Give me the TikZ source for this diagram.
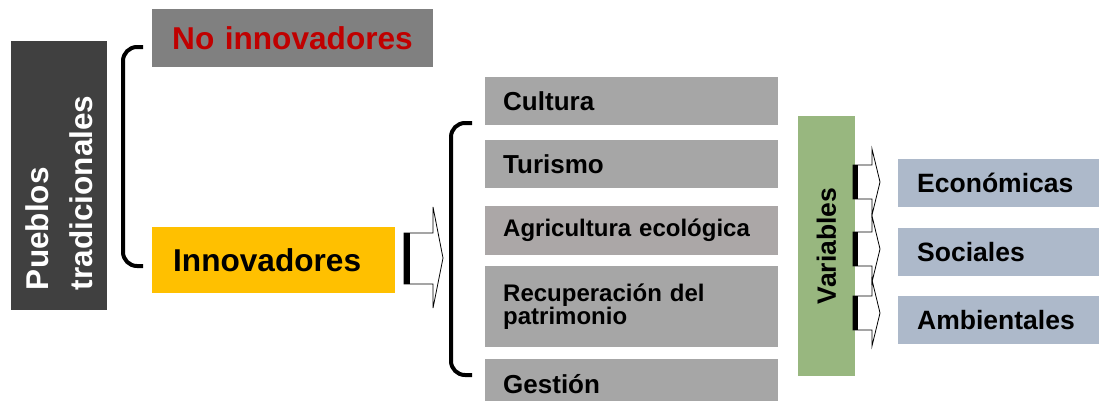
\documentclass[tikz,border=0pt]{standalone}
\usepackage{fontspec}
\setmainfont{Liberation Sans}
\usetikzlibrary{positioning}
\definecolor{oscuro}{HTML}{404040}
\definecolor{grismedio}{HTML}{808080}
\definecolor{rojo}{HTML}{C00000}
\definecolor{ambar}{HTML}{FFC000}
\definecolor{gris}{HTML}{A6A6A6}
\definecolor{griscalido}{HTML}{ABA7A7}
\definecolor{verde}{HTML}{98B77F}
\definecolor{azulgris}{HTML}{ADB9CA}
\tikzset{
    caja/.style={rectangle, anchor=north west, inner ysep=0pt, align=left},
    tira/.style={caja, fill=gris, inner xsep=18pt, text width=257pt, minimum height=48pt,
                 font=\bfseries\fontsize{26}{29}\selectfont},
    dimension/.style={caja, fill=azulgris, inner xsep=19pt, text width=164pt, minimum height=48pt,
                 font=\bfseries\fontsize{26.5}{29}\selectfont},
    corchete/.style={line width=4pt, rounded corners=14pt},
    flecha/.style={draw, fill=white, line width=0.8pt}
}
\begin{document}
\begin{tikzpicture}[x=1pt,y=-1pt]
                    \useasboundingbox (0,0) rectangle (1099,400);
                    \clip (0,0) rectangle (1099,400);
                    \node[rectangle, fill=oscuro, rotate=90, minimum width=269pt, minimum height=96pt,
                          inner xsep=20pt, text width=229pt, align=left, text=white,
                          font=\bfseries\fontsize{31.5}{44}\selectfont] (pueblos) at (59,175.5) {Pueblos\\tradicionales};
                    \node[caja, fill=grismedio, minimum height=58pt, inner xsep=20pt, text width=241pt, text=rojo,
                          font=\bfseries\fontsize{31.6}{36}\selectfont] (noinnov) at (152,9) {\mbox{No innovadores}};
                    \node[caja, fill=ambar, minimum height=66pt, inner xsep=21pt, text width=201pt,
                          font=\bfseries\fontsize{31.6}{36}\selectfont] (innov) at (152,227) {Innovadores};
                    \draw[corchete] (143,47) -- (123,47) -- (123,266) -- (143,266);
                    \draw[flecha] (404,233) -- (433,233) -- (433,207) -- (443,258) -- (433,308) -- (433,284) -- (404,284) -- cycle;
                    \fill (404,233) rectangle (410,284);
                    \draw[corchete] (472,123) -- (451,123) -- (451,375) -- (472,375);
                    \node[tira] (cultura) at (485,77) {Cultura};
                    \node[tira] (turismo) at (485,140) {Turismo};
                    \node[tira, fill=griscalido, minimum height=49pt, font=\bfseries\fontsize{24}{27}\selectfont] (agricultura) at (485,206) {Agricultura ecológica};
                    \node[tira, minimum height=81pt, font=\bfseries\fontsize{24}{23}\selectfont] (patrimonio) at (485,266) {Recuperación del\\patrimonio};
                    \node[tira, minimum height=50pt] (gestion) at (485,359) {Gestión};
                    \node[rectangle, fill=verde, rotate=90, minimum width=260pt, minimum height=57pt,
                          font=\bfseries\fontsize{26.5}{29}\selectfont] (variables) at (826.5,246) {Variables};
                    \foreach \yc in {182,249,313} {
                        \draw[flecha] (853,\yc-17) -- (872,\yc-17) -- (872,\yc-33) -- (880,\yc) -- (872,\yc+33) -- (872,\yc+17) -- (853,\yc+17) -- cycle;
                        \fill (853,\yc-17) rectangle (858,\yc+17);
                    }
                    \node[dimension] (economicas) at (898,159) {Económicas};
                    \node[dimension, below=20pt of economicas] (sociales) {Sociales};
                    \node[dimension, below=20pt of sociales] (ambientales) {Ambientales};
                \end{tikzpicture}
\end{document}
